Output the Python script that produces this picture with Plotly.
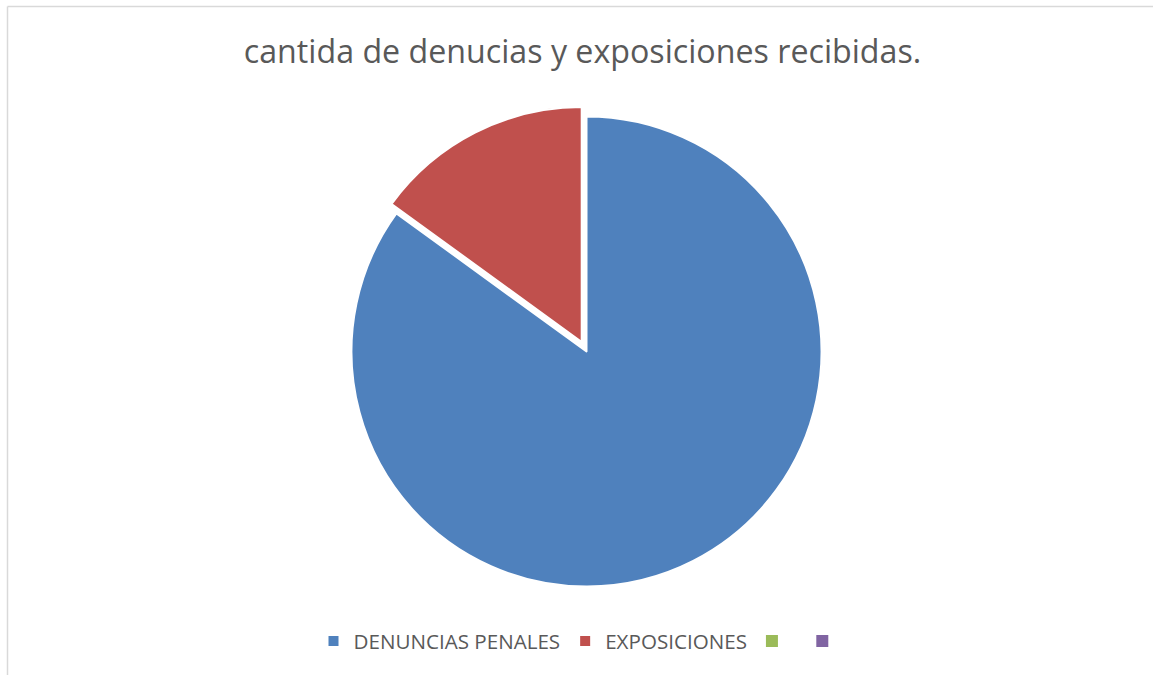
import plotly.graph_objects as go

labels = ["DENUNCIAS PENALES", "EXPOSICIONES", " ", "  "]
values = [85, 15, 0, 0]
colors = ["#4F81BD", "#C0504D", "#9BBB59", "#8064A2"]
pulls = [0, 0.045, 0, 0]

W, H = 1153, 675
cx, cy, r = 586.5, 351.5, 235
maxpull = max(pulls)
half = r * (1 + maxpull)

fig = go.Figure(go.Pie(
    labels=labels,
    values=values,
    sort=False,
    direction="clockwise",
    rotation=0,
    pull=pulls,
    textinfo="none",
    hoverinfo="label+value",
    marker=dict(colors=colors, line=dict(color="white", width=[2, 2, 0, 0])),
    domain=dict(x=[(cx - 560) / W, (cx + 560) / W],
                y=[(H - cy - half) / H, (H - cy + half) / H]),
))

fig.update_layout(
    width=W, height=H,
    margin=dict(l=0, r=0, t=0, b=0),
    paper_bgcolor="white",
    font=dict(family="Open Sans, sans-serif", color="#595959"),
    title=dict(text="cantida de denucias y exposiciones recibidas.",
               x=582.5 / W, xanchor="center", y=1 - 52 / H, yanchor="middle",
               font=dict(size=32.2, color="#595959")),
    showlegend=True,
    legend=dict(orientation="h", x=586 / W, xanchor="center",
                y=1 - 641 / H, yanchor="middle",
                font=dict(size=20.6, color="#595959"), itemclick=False),
    shapes=[
        dict(type="line", xref="paper", yref="paper", x0=7.5 / W, x1=1.01,
             y0=1 - 6.5 / H, y1=1 - 6.5 / H, line=dict(color="#D9D9D9", width=1.5)),
        dict(type="line", xref="paper", yref="paper", x0=7.5 / W, x1=7.5 / W,
             y0=-0.01, y1=1 - 6.5 / H, line=dict(color="#D9D9D9", width=1.5)),
    ],
)

fig.write_html("out.html", config={"displayModeBar": False},
               post_script="document.body.style.margin='0';document.body.style.overflow='hidden';")
